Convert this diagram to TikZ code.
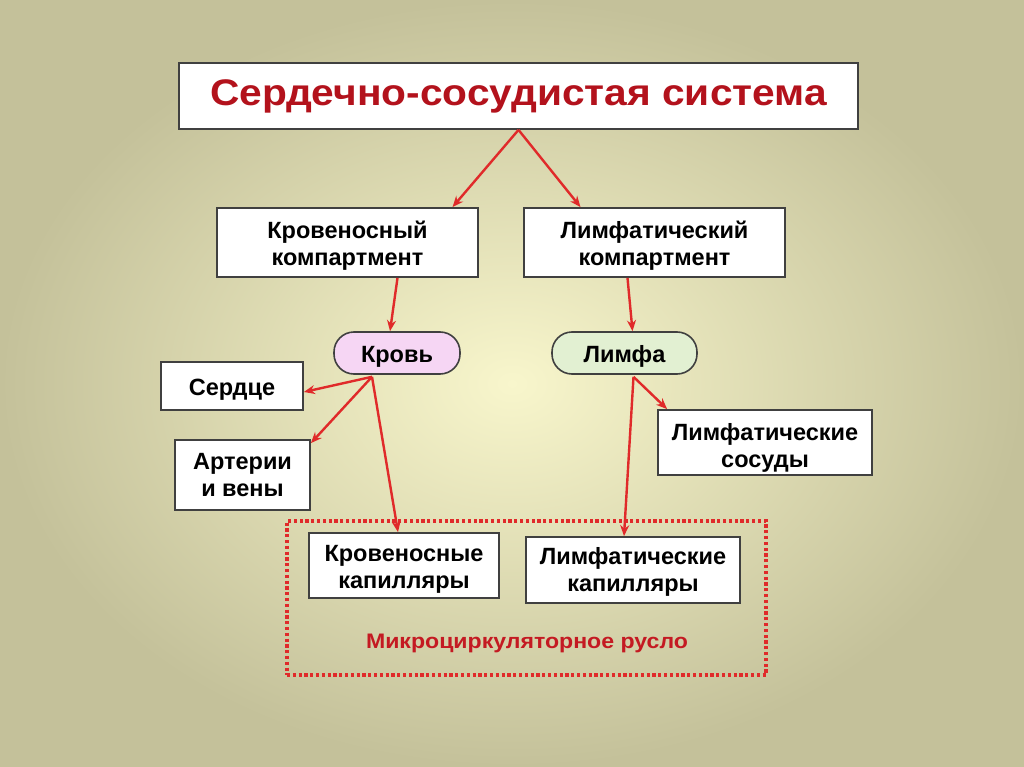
\documentclass[tikz,border=0pt]{standalone}
\usepackage{fontspec}
\setmainfont{Liberation Sans}
\newfontfamily\widefont[FakeStretch=1.1]{Liberation Sans}
\usetikzlibrary{calc,arrows.meta}
\definecolor{bgout}{HTML}{C4C19A}
\definecolor{bgin}{HTML}{F8F6CC}
\definecolor{arr}{HTML}{E02A2A}
\definecolor{titlered}{HTML}{B3121C}
\definecolor{microred}{HTML}{C41A22}
\definecolor{pink}{HTML}{F6D6F4}
\definecolor{lgreen}{HTML}{E2F0D2}
\tikzset{
  box/.style={draw=black!75, fill=white, line width=1.8pt, align=center, inner sep=0pt,
    font=\bfseries\fontsize{23.5}{27}\selectfont},
  oneline/.style={text height=23pt},
  twolines/.style={text height=50pt},
  pill/.style={draw=black!75, line width=1.6pt, rounded corners=20pt, inner sep=0pt,
    minimum height=42pt, text height=23pt, font=\bfseries\fontsize{23.5}{27}\selectfont},
  titlebox/.style={draw=black!75, fill=white, line width=1.8pt, inner sep=0pt, text=titlered,
    font=\widefont\bfseries\fontsize{37}{40}\selectfont},
  link/.style={draw=arr, line width=2.4pt, -{Stealth[length=11pt,width=9pt]}},
  dotted frame/.style={draw=arr, line width=3.2pt, dash pattern=on 3.2pt off 2.6pt, inner sep=0pt},
}
\begin{document}
\begin{tikzpicture}[x=1pt,y=-1pt]
\useasboundingbox (0,0) rectangle (1024,767);
\shade[inner color=bgin, outer color=bgout] (0,0) rectangle (1024,767);
\node[titlebox, minimum width=679pt, minimum height=66pt] (title) at (518.5,96) {Сердечно-сосудистая система};
\node[box, twolines, minimum width=261pt, minimum height=69pt] (kn) at (347.5,242.5) {Кровеносный\\компартмент};
\node[box, twolines, minimum width=261pt, minimum height=69pt] (lk) at (654.5,242.5) {Лимфатический\\компартмент};
\node[pill, fill=pink, minimum width=126pt] (krov) at (397,353) {Кровь};
\node[pill, fill=lgreen, minimum width=145pt] (limfa) at (624.5,353) {Лимфа};
\node[box, oneline, minimum width=142pt, minimum height=48pt] (serd) at (232,386) {Сердце};
\node[box, twolines, text height=44pt, minimum width=135pt, minimum height=70pt] (art) at (242.5,475) {Артерии\\и вены};
\node[box, twolines, text height=54pt, minimum width=214pt, minimum height=65pt] (ls) at (765,442.5) {Лимфатические\\сосуды};
\node[dotted frame, minimum width=479pt, minimum height=154pt] (micro) at (526.5,598) {};
\node[box, twolines, minimum width=190pt, minimum height=65pt] (kk) at (404,565.5) {Кровеносные\\капилляры};
\node[box, twolines, text height=48pt, minimum width=214pt, minimum height=66pt] (lkap) at (633,570) {Лимфатические\\капилляры};
\node[text=microred, font=\widefont\bfseries\fontsize{21}{24}\selectfont] (mlabel) at (527,643) {Микроциркуляторное русло};
\draw[link] (title.south) -- ($(kn.north)+(105,0)$);
\draw[link] (title.south) -- ($(lk.north)+(-74,0)$);
\draw[link] ($(kn.south)+(50,0)$) -- ($(krov.north)+(-7,0)$);
\draw[link] ($(lk.south)+(-27,0)$) -- ($(limfa.north)+(8,0)$);
\coordinate (kb) at ($(krov.south)+(-25,2)$);
\draw[link] (kb) -- ($(serd.east)+(0,6)$);
\draw[link] (kb) -- ($(art.north east)+(0,4)$);
\draw[link] (kb) -- ($(kk.north)+(-6,0)$);
\coordinate (lb) at ($(limfa.south)+(9,2)$);
\draw[link] (lb) -- ($(ls.north west)+(10,0)$);
\draw[link] (lb) -- ($(lkap.north)+(-9,0)$);
\end{tikzpicture}
\end{document}
